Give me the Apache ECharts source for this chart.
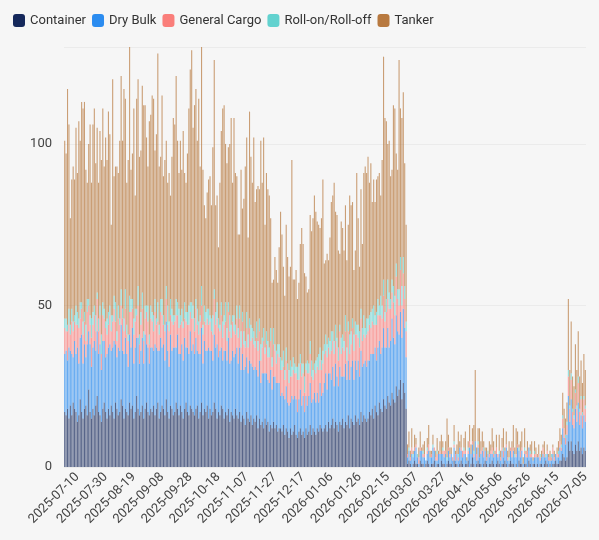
<!DOCTYPE html>
<html><head><meta charset="utf-8">
<script src="https://cdn.jsdelivr.net/npm/echarts@6/dist/echarts.min.js"></script>
<style>html,body{margin:0;padding:0;background:#f6f6f6}#c{width:599px;height:540px}</style>
</head><body><div id="c"></div>
<script>
// categories: daily dates 2025-07-01 .. 2026-07-05
const startDate = '2025-07-01';
const dayCount = 370;
const seriesNames = ['Container','Dry Bulk','General Cargo','Roll-on/Roll-off','Tanker'];
const yTicks = [0, 50, 100];

const container = [
 17,16,18,15,19,16,20,18,17,14,16,21,17,15,18,19,16,24,17,15,18,16,19,22,17,16,14,18,20,17,15,
 18,16,19,17,15,20,18,16,17,21,19,15,18,17,16,20,18,19,15,17,22,18,16,17,19,15,18,20,17,16,18,
 17,19,16,18,20,15,17,19,18,16,21,17,15,19,18,16,17,20,18,16,19,17,15,18,20,17,16,19,18,17,
 16,18,19,15,17,20,16,18,17,19,15,18,16,17,20,18,15,17,16,19,18,15,17,16,18,14,17,16,15,18,16,
 15,17,14,16,15,13,17,15,14,16,13,15,14,16,12,15,13,14,12,15,13,14,11,13,12,14,12,13,11,12,
 12,11,13,10,12,11,9,12,10,11,13,10,9,11,12,10,11,9,12,10,11,13,10,12,11,10,12,11,13,12,11,
 12,13,11,14,12,13,15,12,14,13,11,14,13,15,12,14,13,16,12,15,14,13,16,14,15,13,17,14,16,15,14,
 15,17,16,18,15,19,17,16,20,18,17,21,19,18,22,20,19,23,21,20,25,22,24,27,21,26,23,18,
 1,2,1,0,1,2,1,1,0,2,1,1,0,1,2,1,0,1,1,2,0,1,1,0,2,1,1,0,1,2,1,
 1,0,2,1,1,0,1,2,1,0,1,1,2,0,1,3,1,0,1,2,1,1,0,1,2,1,0,1,1,2,
 1,0,1,2,1,0,1,1,2,1,0,1,2,1,1,0,1,0,2,1,1,0,1,1,0,2,1,0,1,1,0,
 1,0,1,1,0,1,2,1,0,1,0,1,1,2,
 1,1,2,2,4,3,2,3,8,5,8,5,4,7,5,8,5,6,4,6,5
];
const dryBulk = [
 18,20,15,22,17,19,14,21,18,23,16,19,24,17,20,15,22,18,21,16,19,23,17,20,18,22,16,21,19,17,20,
 19,22,17,20,24,18,16,21,19,23,17,20,22,18,15,21,19,24,17,20,18,22,16,19,21,17,23,18,20,16,19,
 20,17,22,19,16,21,23,18,20,17,24,19,16,22,18,21,20,17,23,19,16,21,18,22,17,20,19,23,18,21,
 19,22,17,20,18,23,16,21,19,17,22,18,20,16,21,19,23,17,20,18,15,21,19,17,22,18,16,20,19,17,21,
 17,20,16,19,15,18,17,14,19,16,18,15,17,14,16,18,13,15,17,14,16,13,15,17,12,14,16,13,15,14,
 10,12,9,11,13,9,10,8,12,10,9,11,8,10,12,9,11,8,10,9,11,13,10,9,12,10,11,9,13,10,12,
 14,16,13,15,17,14,16,13,18,15,14,17,15,13,16,18,14,17,15,16,19,14,17,16,18,15,19,17,16,18,17,
 18,16,19,17,20,18,16,21,19,17,20,22,18,19,21,17,20,23,19,18,22,20,17,21,19,23,20,16,
 2,3,1,4,2,3,5,2,1,3,4,2,3,1,2,4,3,2,5,3,2,1,3,4,2,3,2,4,1,3,2,
 3,2,4,1,3,2,5,3,2,4,3,1,2,6,3,4,2,8,1,4,2,3,5,2,3,1,4,2,3,2,
 2,4,3,1,3,2,4,2,3,5,2,1,3,2,4,3,2,6,3,2,4,1,3,2,3,4,2,3,1,2,3,
 2,3,1,2,4,2,1,3,2,1,2,3,1,2,
 2,2,4,3,8,6,5,7,14,9,13,8,8,11,9,12,8,10,8,10,9
];
const generalCargo = [
 8,6,9,7,5,10,8,6,9,7,11,6,8,9,7,5,10,8,6,9,7,8,6,10,7,9,5,8,7,9,6,
 7,9,6,8,10,7,5,9,8,6,10,7,9,6,8,7,11,6,9,8,7,10,6,8,9,7,5,10,8,6,9,
 8,6,10,7,9,5,8,10,6,9,7,8,11,6,9,7,8,10,6,8,9,7,10,6,8,7,9,6,10,8,
 7,9,8,6,10,7,9,6,8,10,7,9,6,8,11,7,8,9,6,10,7,8,9,6,8,10,7,9,8,6,9,
 8,9,7,10,8,6,9,8,10,7,9,8,6,10,8,9,7,8,10,6,9,7,8,9,7,10,8,6,9,8,
 8,7,9,6,8,10,7,8,6,9,7,8,10,6,8,9,7,6,8,10,7,9,8,6,7,9,8,10,7,8,9,
 9,7,10,8,6,9,8,10,7,9,8,11,7,9,8,10,6,9,8,7,10,9,8,11,7,9,10,8,9,7,10,
 9,11,8,10,9,7,11,10,8,12,9,10,8,11,9,12,10,8,11,9,12,10,9,13,10,11,9,8,
 1,0,1,2,0,1,1,0,2,1,0,1,1,0,1,2,0,1,0,1,1,2,0,1,0,1,2,1,0,1,1,
 0,1,1,2,0,1,0,1,2,1,1,0,1,2,0,1,1,0,2,1,0,1,1,2,0,1,0,1,1,2,
 1,0,2,1,0,1,1,2,0,1,1,0,1,2,1,0,1,1,0,2,1,0,1,1,2,0,1,1,0,1,1,
 0,1,1,0,2,1,0,1,1,0,1,2,1,0,
 1,1,2,1,3,3,2,3,6,4,6,4,3,5,4,6,4,5,4,5,4
];
const rollOnRollOff = [
 3,4,2,5,3,4,3,2,6,4,3,5,2,4,3,5,4,2,3,6,4,3,5,2,4,3,6,4,3,2,5,
 4,3,5,2,4,6,3,4,2,5,3,4,6,3,2,5,4,3,5,4,2,6,3,4,5,3,4,2,5,3,4,
 3,5,4,2,6,3,4,5,3,2,4,6,3,5,4,3,2,5,4,6,3,4,2,5,3,4,6,3,5,4,
 4,3,5,4,2,6,3,5,4,3,5,2,4,6,3,4,5,3,2,4,5,3,6,4,3,5,4,2,5,3,4,
 3,4,5,3,4,2,5,4,3,5,3,4,2,5,3,4,5,3,4,2,4,5,3,4,3,5,2,4,3,4,
 4,3,5,3,4,2,4,5,3,4,3,2,4,5,3,4,3,5,2,4,3,4,5,3,2,4,3,5,4,3,4,
 3,5,4,3,4,6,3,4,5,3,4,2,5,4,3,5,4,3,6,4,3,5,4,3,4,5,3,4,6,3,5,
 4,3,5,4,6,3,4,5,3,6,4,5,3,4,6,5,3,4,5,6,4,3,5,4,6,5,4,3,
 0,1,0,0,1,0,0,1,0,0,0,1,0,0,1,0,0,0,1,0,0,1,0,0,0,1,0,0,1,0,0,
 0,0,1,0,0,1,0,0,0,1,0,0,1,0,0,0,1,0,0,1,0,0,0,1,0,0,1,0,0,0,
 1,0,0,0,1,0,0,1,0,0,0,1,0,0,0,1,0,0,1,0,0,0,1,0,0,0,1,0,0,1,0,
 0,0,1,0,0,0,1,0,0,0,1,0,0,0,
 0,1,0,1,1,0,1,1,2,1,2,1,1,1,1,2,1,1,1,1,1
];
const tanker = [
 55,51,73,57,33,40,48,42,55,43,61,50,62,66,65,48,36,48,59,42,58,61,47,51,42,54,54,60,44,57,49,
 62,53,28,73,37,42,51,41,55,66,52,71,59,44,54,77,40,45,65,35,65,64,55,50,64,70,62,52,43,66,59,
 67,67,46,57,77,49,44,63,43,51,45,38,46,32,47,61,59,69,50,42,54,43,59,40,40,49,61,72,78,55,
 66,65,52,69,46,75,48,31,29,36,40,43,35,52,71,33,33,22,44,53,66,65,49,51,48,53,64,41,61,47,40,
 29,22,50,32,41,54,54,30,64,52,45,60,43,41,48,40,63,48,59,38,49,47,47,34,23,15,27,25,19,30,
 45,39,26,23,38,33,29,29,64,24,26,30,21,25,34,42,37,32,27,21,23,39,40,47,52,46,42,40,37,44,53,
 25,23,28,24,32,40,42,49,35,38,30,22,36,33,28,34,27,30,43,39,36,20,22,47,33,20,37,26,44,50,45,
 50,41,46,33,39,35,41,38,41,31,45,69,60,55,42,47,38,34,56,58,34,37,71,46,52,51,38,30,
 3,5,2,6,1,4,2,0,3,5,1,2,4,0,3,6,2,1,3,0,2,4,1,3,6,2,0,3,12,4,2,
 2,0,5,1,3,7,2,4,0,3,6,1,2,5,3,4,8,22,2,4,9,3,5,2,1,3,0,4,2,6,
 3,1,4,0,5,2,3,6,1,4,2,5,0,3,7,2,8,4,1,3,5,2,6,1,3,0,2,4,1,3,2,
 1,3,0,2,1,4,0,2,1,3,0,1,2,0,
 2,3,4,3,7,6,5,6,22,11,16,10,9,14,11,14,10,11,9,13,11
];

const colors = ['#15285b','#2b8cf0','#fa7e7a','#62d2cf','#b8793f'];

const dates = [];
{
  const d0 = new Date(startDate + 'T00:00:00Z');
  for (let i = 0; i < dayCount; i++) {
    const d = new Date(d0.getTime() + i * 86400000);
    dates.push(d.toISOString().slice(0, 10));
  }
}
const firstLabelIdx = dates.indexOf('2025-07-10');

const chart = echarts.init(document.getElementById('c'), null, {renderer: 'canvas'});
const values = [container, dryBulk, generalCargo, rollOnRollOff, tanker];
chart.setOption({
  backgroundColor: '#f6f6f6',
  animation: false,
  textStyle: {fontFamily: 'Roboto'},
  legend: {
    left: 8, top: 9, itemWidth: 12, itemHeight: 13, itemGap: 6,
    icon: 'roundRect',
    textStyle: {color: '#333', fontSize: 13, fontFamily: 'Roboto'},
    itemStyle: {opacity: 1},
    data: seriesNames.map((n, i) => ({name: n, itemStyle: {color: colors[i], opacity: 1}}))
  },
  grid: {left: 64, right: 13, top: 47, bottom: 73},
  xAxis: {
    type: 'category', data: dates,
    axisLine: {show: false}, axisTick: {show: false},
    axisLabel: {
      rotate: 45, color: '#444', fontSize: 13, fontFamily: 'Roboto', margin: 8,
      interval: (idx) => idx >= firstLabelIdx && (idx - firstLabelIdx) % 20 === 0
    }
  },
  yAxis: {
    type: 'value', min: 0, max: 130, interval: 50,
    axisLine: {show: false}, axisTick: {show: false},
    axisLabel: {color: '#444', fontSize: 13, fontFamily: 'Roboto', margin: 12, showMaxLabel: false,
      formatter: v => yTicks.includes(v) ? String(v) : ''},
    splitLine: {lineStyle: {color: '#ebebeb', width: 1}}
  },
  series: seriesNames.map((n, i) => ({
    name: n, type: 'bar', stack: 'total', data: values[i],
    barCategoryGap: '22%',
    itemStyle: {color: colors[i], opacity: 0.7},
    emphasis: {disabled: true}
  }))
});
</script></body></html>
